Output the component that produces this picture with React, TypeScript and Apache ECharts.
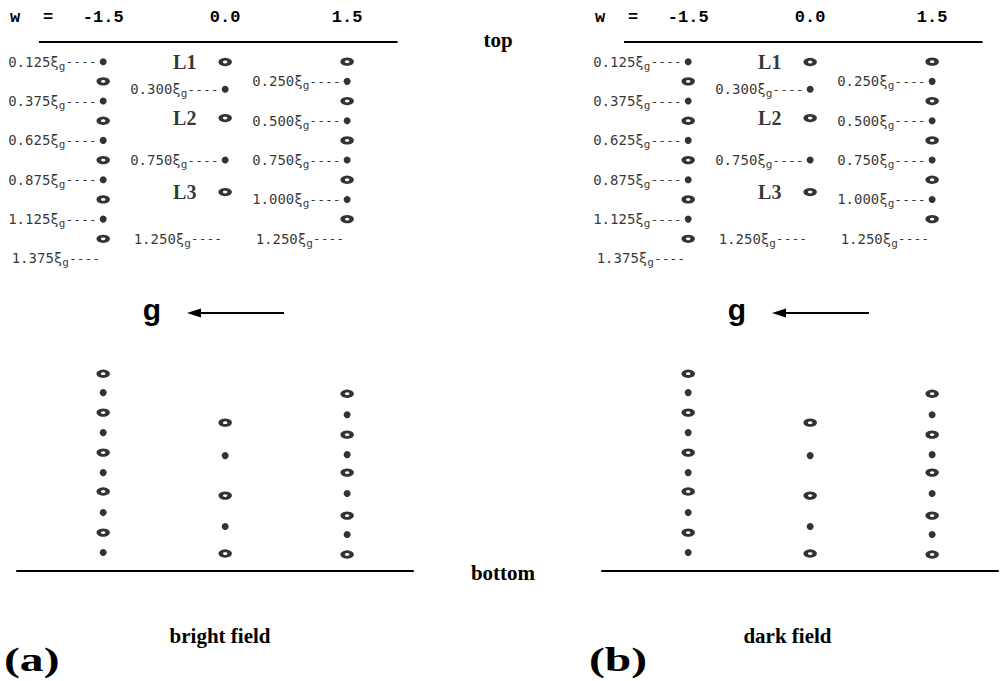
import React, { useEffect, useRef } from "react";
import * as echarts from "echarts";

// Column positions (w values) shown on the top axis
const W = [-1.5, 0.0, 1.5];
const W_TICKS = [-1.5, 0.0, 1.5];

// Depths (in units of xi_g) measured from the top surface
const topFilledLeft = [0.125, 0.375, 0.625, 0.875, 1.125];
const topFilledMid = [0.3, 0.75];
const topFilledRight = [0.25, 0.5, 0.75, 1.0];
const labelOnlyLeft = [1.375];
const labelOnlyMid = [1.25];
const labelOnlyRight = [1.25];

const topHollowLeft = [0.25, 0.5, 0.75, 1.0, 1.25];
const topHollowMid = [0.127, 0.483, 0.953];
const topHollowRight = [0.125, 0.375, 0.625, 0.875, 1.125];
const layerNames = ["L1", "L2", "L3"];

const bottomFilledLeft = [2.227, 2.481, 2.735, 2.989, 3.242];
const bottomHollowLeft = [2.107, 2.354, 2.608, 2.855, 3.116];
const bottomFilledMid = [2.627, 3.077];
const bottomHollowMid = [2.418, 2.881, 3.249];
const bottomFilledRight = [2.367, 2.621, 2.868, 3.128];
const bottomHollowRight = [2.234, 2.494, 2.735, 3.008, 3.255];

// Crystal surfaces
const topSurfaceW = [-2.29, 2.12];
const topSurfaceDepth = 0;
const thickness = 3.36;

const panelTitles = ["bright field", "dark field"];
const panelTags = ["(a)", "(b)"];

const X_MIN = -2.56;
const X_MAX = 2.31;

function pts(w: number, depths: number[]) {
  return depths.map((d) => [w, d]);
}
function hiddenPts(w: number, depths: number[]) {
  return depths.map((d) => ({ value: [w, d], symbolSize: 0 }));
}

const depthRich = {
  n: { fontFamily: "DejaVu Sans Mono", fontSize: 14, color: "#000", lineHeight: 20, verticalAlign: "middle" },
  s: { fontFamily: "DejaVu Sans Mono", fontSize: 11, color: "#000", lineHeight: 10, verticalAlign: "bottom" },
  d: { fontFamily: "DejaVu Sans Mono", fontSize: 13, color: "#000", lineHeight: 20, verticalAlign: "middle" },
};

function buildOption() {
  const gridLefts = [17, 602];
  const dx = [0, 585];
  const grids: any[] = [];
  const xAxes: any[] = [];
  const yAxes: any[] = [];
  const series: any[] = [];
  const graphics: any[] = [];

  gridLefts.forEach((left, p) => {
    grids.push({ left, top: 42, width: 396, height: 529 });
    xAxes.push({
      type: "value",
      gridIndex: p,
      position: "top",
      min: X_MIN,
      max: X_MAX,
      axisLine: { show: false },
      axisTick: { show: false },
      splitLine: { show: false },
      axisLabel: {
        customValues: W_TICKS,
        formatter: (v: number) => v.toFixed(1),
        fontFamily: "Liberation Mono",
        fontWeight: "bold",
        fontSize: 17,
        color: "#000",
        margin: 16,
      },
    });
    xAxes.push({
      type: "value",
      gridIndex: p,
      position: "bottom",
      min: X_MIN,
      max: X_MAX,
      axisLine: { show: true, onZero: false, lineStyle: { color: "#000", width: 2 } },
      axisTick: { show: false },
      axisLabel: { show: false },
      splitLine: { show: false },
    });
    yAxes.push({
      type: "value",
      gridIndex: p,
      inverse: true,
      min: 0,
      max: thickness,
      show: false,
    });

    const xi = p * 2;
    const common = { xAxisIndex: xi, yAxisIndex: p, silent: true, emphasis: { disabled: true } };

    series.push({
      ...common,
      type: "line",
      name: "top surface",
      symbol: "none",
      lineStyle: { color: "#000", width: 2 },
      data: topSurfaceW.map((w) => [w, topSurfaceDepth]),
    });

    series.push({
      ...common,
      type: "scatter",
      name: "filled (top)",
      symbol: "circle",
      symbolSize: 7,
      itemStyle: { color: "#000" },
      data: [
        ...pts(W[0], topFilledLeft),
        ...hiddenPts(W[0], labelOnlyLeft),
        ...pts(W[1], topFilledMid),
        ...hiddenPts(W[1], labelOnlyMid),
        ...pts(W[2], topFilledRight),
        ...hiddenPts(W[2], labelOnlyRight),
      ],
      label: {
        show: true,
        position: "left",
        distance: 3,
        formatter: (prm: any) => `{n|${prm.value[1].toFixed(3)}ξ}{s|g}{d|----}`,
        rich: depthRich,
      },
    });

    const hollowStyle = { color: "#fff", borderColor: "#000", borderWidth: 3.5 };
    series.push({
      ...common,
      type: "scatter",
      name: "layers",
      symbol: "circle",
      symbolSize: [9, 5.5],
      itemStyle: hollowStyle,
      data: pts(W[1], topHollowMid),
      label: {
        show: true,
        position: "left",
        distance: 22,
        formatter: (prm: any) => layerNames[prm.dataIndex],
        fontFamily: "Liberation Serif",
        fontWeight: "bold",
        fontSize: 20,
        color: "#000",
      },
    });
    series.push({
      ...common,
      type: "scatter",
      name: "hollow",
      symbol: "circle",
      symbolSize: [9, 5.5],
      itemStyle: hollowStyle,
      data: [
        ...pts(W[0], topHollowLeft),
        ...pts(W[2], topHollowRight),
        ...pts(W[0], bottomHollowLeft),
        ...pts(W[1], bottomHollowMid),
        ...pts(W[2], bottomHollowRight),
      ],
    });
    series.push({
      ...common,
      type: "scatter",
      name: "filled (bottom)",
      symbol: "circle",
      symbolSize: 7,
      itemStyle: { color: "#000" },
      data: [
        ...pts(W[0], bottomFilledLeft),
        ...pts(W[1], bottomFilledMid),
        ...pts(W[2], bottomFilledRight),
      ],
    });

    const o = dx[p];
    const mono = 'bold 17px "Liberation Mono"';
    graphics.push(
      { type: "text", x: 10 + o, y: 17, style: { text: "w", font: mono, fill: "#000", textAlign: "left", textVerticalAlign: "middle" } },
      { type: "text", x: 43 + o, y: 17, style: { text: "=", font: mono, fill: "#000", textAlign: "left", textVerticalAlign: "middle" } },
      { type: "text", x: 152 + o, y: 309, style: { text: "g", font: 'bold 30px "Liberation Sans"', fill: "#000", textAlign: "center", textVerticalAlign: "middle" } },
      { type: "line", shape: { x1: 197 + o, y1: 313, x2: 284 + o, y2: 313 }, style: { stroke: "#000", lineWidth: 2 } },
      { type: "polygon", shape: { points: [[187 + o, 313], [201 + o, 308.5], [201 + o, 317.5]] }, style: { fill: "#000" } },
      { type: "text", x: 220 + o * 0.97, y: 636, style: { text: panelTitles[p], font: 'bold 21px "Liberation Serif"', fill: "#000", textAlign: "center", textVerticalAlign: "middle" } },
      { type: "text", x: 4 + o, y: 659, scaleX: 1.4, style: { text: panelTags[p], font: 'bold 34px "Liberation Serif"', fill: "#000", textAlign: "left", textVerticalAlign: "middle" } }
    );
  });

  graphics.push(
    { type: "text", x: 498, y: 40, style: { text: "top", font: 'bold 21px "Liberation Serif"', fill: "#000", textAlign: "center", textVerticalAlign: "middle" } },
    { type: "text", x: 503, y: 573, style: { text: "bottom", font: 'bold 21px "Liberation Serif"', fill: "#000", textAlign: "center", textVerticalAlign: "middle" } }
  );

  return {
    animation: false,
    backgroundColor: "#fff",
    textStyle: { fontFamily: "DejaVu Sans" },
    grid: grids,
    xAxis: xAxes,
    yAxis: yAxes,
    series,
    graphic: { elements: graphics },
  };
}

export default function App() {
  const ref = useRef<HTMLDivElement>(null);
  useEffect(() => {
    const chart = echarts.init(ref.current!, null, { renderer: "svg" });
    chart.setOption(buildOption() as any);
    return () => chart.dispose();
  }, []);
  return (
    <div
      ref={ref}
      style={{ position: "absolute", left: 0, top: 0, width: 1003, height: 681, background: "#fff" }}
    />
  );
}
